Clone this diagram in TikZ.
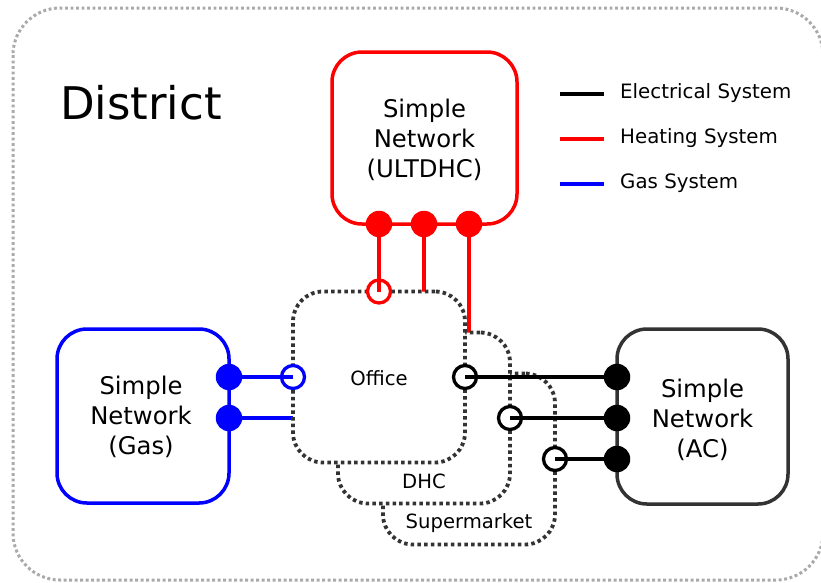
\documentclass[tikz,border=0pt]{standalone}
\usepackage{fontspec}
\setmainfont{DejaVu Sans}
\definecolor{frame}{RGB}{51,51,51}
\definecolor{outline}{RGB}{170,170,170}
\pgfdeclarelayer{background}
\pgfdeclarelayer{foreground}
\pgfsetlayers{background,main,foreground}
\begin{document}
\begin{tikzpicture}[x=1pt,y=-1pt,
  network/.style={draw, line width=3.5pt, rounded corners=30pt, fill=white,
    inner sep=0pt, outer sep=0pt},
  netlabel/.style={align=center, inner sep=0pt, font=\fontsize{24.3}{30}\selectfont},
  site/.style={draw=frame, line width=3.8pt, dash pattern=on 3.5pt off 3.2pt, rounded corners=30pt,
    fill=white, inner sep=0pt, outer sep=0pt, minimum width=172pt, minimum height=171pt},
  sitelabel/.style={font=\fontsize{19.6}{24}\selectfont, inner sep=0pt},
  wire/.style={line width=3.3pt},
  tap/.style={circle, fill, inner sep=0pt, outer sep=0pt, minimum size=26.5pt},
  socket/.style={circle, draw, fill=white, line width=3.3pt, inner sep=0pt, outer sep=0pt, minimum size=23pt},
  legendtext/.style={anchor=west, font=\fontsize{19.8}{24}\selectfont, inner sep=0pt}]
\useasboundingbox (0,0) rectangle (821,582);

% district frame
\draw[outline, line width=3pt, dash pattern=on 2.9pt off 2.6pt, rounded corners=47pt]
  (13,8) rectangle (823,580);
\node[font=\fontsize{45}{50}\selectfont, inner sep=0pt] (title) at (141,103) {District};

% simple networks
\node[network, draw=red, minimum width=185pt, minimum height=172pt] (ult) at (424.5,138) {};
\node[network, draw=blue, minimum width=172pt, minimum height=174pt] (gas) at (143,416) {};
\node[network, draw=frame, minimum width=171pt, minimum height=175pt] (ac) at (702.5,416.5) {};
\node[netlabel] (ultlabel) at (424.5,139.5) {Simple\\Network\\(ULTDHC)};
\node[netlabel] (gaslabel) at (141,417) {Simple\\Network\\(Gas)};
\node[netlabel] (aclabel) at (702.5,420) {Simple\\Network\\(AC)};

% buildings, back to front
\node[site] (super) at (469,459) {};
\node[site] (dhc) at (424,418) {};
\node[site] (office) at (379,377) {};
\node[sitelabel] (officelabel) at (379,378) {Office};
\node[sitelabel] (dhclabel) at (424,481) {DHC};
\node[sitelabel] (superlabel) at (469,523) {Supermarket};

% network taps
\begin{pgfonlayer}{foreground}
\node[tap, red] (h1) at (office.north |- ult.south) {};
\node[tap, red] (h2) at (dhc.north |- ult.south) {};
\node[tap, red] (h3) at (super.north |- ult.south) {};
\node[tap, blue] (g1) at (gas.east |- office.west) {};
\node[tap, blue] (g2) at (gas.east |- dhc.west) {};
\node[tap, black] (e1) at (ac.west |- office.east) {};
\node[tap, black] (e2) at (ac.west |- dhc.east) {};
\node[tap, black] (e3) at (ac.west |- super.east) {};
\end{pgfonlayer}

% building sockets
\node[socket, draw=red] (s1) at (office.north) {};
\node[socket, draw=blue] (s2) at (office.west) {};
\node[socket, draw=black] (s3) at (office.east) {};
\node[socket, draw=black] (s4) at (dhc.east) {};
\node[socket, draw=black] (s5) at (super.east) {};

% connections running behind the buildings
\begin{pgfonlayer}{background}
\draw[wire, red] (h2.center) -- (dhc.north);
\draw[wire, red] (h3.center) -- (super.north);
\draw[wire, blue] (g2.center) -- (dhc.west);
\end{pgfonlayer}

% visible connections
\draw[wire, red] (h1.center) -- (s1.center);
\draw[wire, blue] (g1.center) -- (s2.center);
\draw[wire] (s3.center) -- (e1.center);
\draw[wire] (s4.center) -- (e2.center);
\draw[wire] (s5.center) -- (e3.center);

% legend
\node[legendtext] (lgE) at (620,93) {Electrical System};
\node[legendtext] (lgH) at (620,138) {Heating System};
\node[legendtext] (lgG) at (620,183) {Gas System};
\coordinate (lE) at (560,94);
\coordinate (lH) at (560,139);
\coordinate (lG) at (560,184);
\draw[wire, line width=3.5pt] (lE) -- (lE -| 604,0);
\draw[wire, line width=3.5pt, red] (lH) -- (lH -| 604,0);
\draw[wire, line width=3.5pt, blue] (lG) -- (lG -| 604,0);
\end{tikzpicture}
\end{document}
